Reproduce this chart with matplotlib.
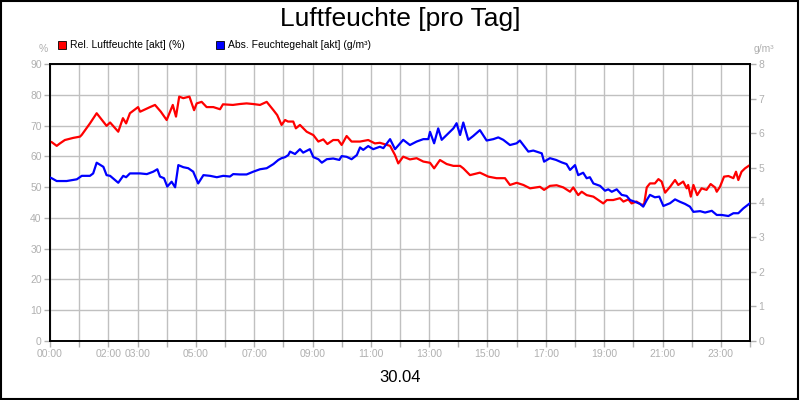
import matplotlib
matplotlib.use("Agg")
import matplotlib.pyplot as plt
from matplotlib.patches import Rectangle

plt.rcParams['font.family'] = ['Liberation Sans', 'DejaVu Sans']

title = "Luftfeuchte [pro Tag]"
date_label = "30.04"
rel_label = "Rel. Luftfeuchte [akt] (%)"
abs_label = "Abs. Feuchtegehalt [akt] (g/m³)"

rel_hours = [0.00, 0.06, 0.23, 0.34, 0.51, 0.80, 1.03, 1.09, 1.37, 1.60, 1.94, 2.06, 2.34, 2.50, 2.61,
             2.74, 3.02, 3.09, 3.43, 3.60, 3.70, 3.80, 4.00, 4.21, 4.32, 4.43, 4.57, 4.69, 4.78, 4.94,
             5.03, 5.20, 5.37, 5.60, 5.83, 5.93, 6.27, 6.51, 6.74, 6.96, 7.20, 7.43, 7.66, 7.79, 7.94,
             8.06, 8.16, 8.34, 8.43, 8.57, 8.80, 9.03, 9.20, 9.37, 9.51, 9.71, 9.88, 10.00, 10.17, 10.34,
             10.63, 10.91, 11.14, 11.31, 11.66, 11.83, 11.94, 12.11, 12.34, 12.57, 12.80, 13.03, 13.17,
             13.37, 13.60, 13.83, 14.06, 14.17, 14.40, 14.74, 15.03, 15.31, 15.60, 15.77, 16.00, 16.23,
             16.46, 16.80, 16.94, 17.14, 17.37, 17.60, 17.83, 17.94, 18.11, 18.23, 18.40, 18.63, 18.80,
             18.97, 19.09, 19.31, 19.54, 19.66, 19.83, 19.94, 20.11, 20.29, 20.37, 20.46, 20.57, 20.74,
             20.86, 20.97, 21.09, 21.26, 21.43, 21.54, 21.71, 21.83, 21.88, 21.97, 22.06, 22.19, 22.34,
             22.51, 22.65, 22.80, 22.86, 22.97, 23.11, 23.26, 23.43, 23.52, 23.60, 23.71, 23.83, 24.00]
rel_values = [64.8, 64.6, 63.4, 64.2, 65.3, 66.0, 66.4, 67.0, 70.7, 74.0, 69.9, 71.0, 68.0, 72.4, 70.7,
              74.0, 76.0, 74.5, 76.0, 76.7, 75.6, 74.5, 71.8, 76.7, 72.9, 79.4, 78.9, 79.2, 79.4, 75.0,
              77.2, 77.7, 76.0, 76.0, 75.3, 76.9, 76.7, 77.0, 77.2, 77.0, 76.7, 77.7, 75.0, 73.4, 70.2,
              71.8, 71.3, 71.3, 69.1, 70.2, 68.0, 66.9, 64.8, 65.5, 64.0, 65.3, 65.3, 63.7, 66.6, 64.8,
              64.8, 65.3, 64.2, 64.4, 63.4, 60.4, 57.7, 59.9, 59.0, 59.4, 58.3, 57.9, 56.1,
              58.8, 57.5, 56.9, 56.9, 56.1, 53.9, 54.7, 53.4, 52.9, 52.9, 50.7, 51.4, 50.7,
              49.6, 50.1, 49.1, 50.4, 50.6, 49.9, 48.5, 49.9, 47.4, 48.5, 47.4, 46.9, 45.8,
              44.7, 45.8, 45.8, 46.4, 45.3, 46.0, 44.7, 45.3, 44.2, 44.5, 49.9, 51.2, 51.2,
              52.6, 51.8, 48.2, 50.1, 52.3, 50.7, 51.8, 49.6, 50.7, 46.9, 50.7, 47.4, 49.6,
              49.1, 51.0, 49.9, 48.5, 50.1, 53.4, 53.6, 52.9, 55.0, 52.3, 55.0, 56.1, 57.2]

abs_hours = [0.00, 0.06, 0.23, 0.57, 0.92, 1.09, 1.37, 1.48, 1.60, 1.83, 1.94, 2.06, 2.34, 2.51, 2.61,
             2.74, 3.09, 3.32, 3.54, 3.68, 3.77, 3.91, 4.02, 4.17, 4.29, 4.40, 4.57, 4.74, 4.91, 5.08,
             5.26, 5.49, 5.72, 5.94, 6.17, 6.28, 6.51, 6.74, 6.97, 7.20, 7.43, 7.66, 7.83, 7.94, 8.06,
             8.17, 8.23, 8.40, 8.57, 8.68, 8.91, 9.03, 9.20, 9.32, 9.49, 9.71, 9.92, 10.00, 10.17, 10.34,
             10.52, 10.63, 10.74, 10.91, 11.08, 11.31, 11.43, 11.66, 11.83, 12.11, 12.34, 12.57, 12.80,
             12.97, 13.03, 13.17, 13.31, 13.43, 13.60, 13.83, 13.94, 14.06, 14.17, 14.34, 14.51, 14.74,
             14.97, 15.20, 15.37, 15.54, 15.77, 16.00, 16.11, 16.40, 16.57, 16.86, 16.94, 17.14, 17.35,
             17.54, 17.71, 17.83, 18.00, 18.11, 18.28, 18.40, 18.51, 18.63, 18.86, 19.03, 19.14, 19.26,
             19.43, 19.60, 19.77, 19.89, 20.06, 20.23, 20.34, 20.46, 20.57, 20.74, 20.89, 21.03, 21.26,
             21.43, 21.60, 21.77, 21.94, 22.06, 22.29, 22.46, 22.69, 22.86, 23.03, 23.26, 23.43, 23.60,
             23.77, 24.00]
abs_values = [4.72, 4.70, 4.62, 4.62, 4.67, 4.77, 4.77, 4.84, 5.15, 5.03, 4.79, 4.77, 4.57, 4.77, 4.73,
              4.84, 4.84, 4.82, 4.89, 4.96, 4.75, 4.70, 4.46, 4.60, 4.44, 5.08, 5.02, 4.99, 4.89, 4.55,
              4.79, 4.77, 4.73, 4.77, 4.75, 4.82, 4.81, 4.81, 4.89, 4.96, 4.99, 5.11, 5.23, 5.28, 5.31,
              5.37, 5.47, 5.40, 5.54, 5.44, 5.54, 5.31, 5.25, 5.15, 5.25, 5.27, 5.23, 5.34, 5.32, 5.25,
              5.37, 5.59, 5.52, 5.63, 5.54, 5.61, 5.57, 5.83, 5.54, 5.81, 5.66, 5.76, 5.83,
              5.83, 6.04, 5.71, 6.14, 5.81, 5.95, 6.14, 6.29, 5.95, 6.31, 5.81, 5.92, 6.09,
              5.79, 5.83, 5.88, 5.81, 5.66, 5.71, 5.79, 5.47, 5.50, 5.42, 5.18, 5.28, 5.23,
              5.16, 5.11, 4.94, 5.08, 4.79, 4.86, 4.70, 4.73, 4.55, 4.48, 4.34, 4.38, 4.31,
              4.38, 4.22, 4.19, 4.07, 4.02, 3.96, 3.88, 4.07, 4.22, 4.15, 4.17, 3.90, 3.98,
              4.09, 4.02, 3.96, 3.88, 3.73, 3.75, 3.71, 3.76, 3.64, 3.64, 3.61, 3.69, 3.69,
              3.83, 3.98]

x_tick_hours = list(range(0, 25))
x_label_hours = [0, 2, 3, 5, 7, 9, 11, 13, 15, 17, 19, 21, 23]
left_ticks = [0, 10, 20, 30, 40, 50, 60, 70, 80, 90]
right_ticks = [0, 1, 2, 3, 4, 5, 6, 7, 8]

tick_gray = '#b0b0b0'
grid_gray = '#c0c0c0'

fig = plt.figure(figsize=(8, 4), dpi=100)
fig.patch.set_facecolor('white')
fig.add_artist(Rectangle((0.001, 0.002), 0.997, 0.996, transform=fig.transFigure,
                         fill=False, edgecolor='black', linewidth=1.5))

ax = fig.add_axes([0.0625, 0.1475, 0.875, 0.6925])
ax2 = ax.twinx()

ax.plot(rel_hours, rel_values, color='#ff0000', linewidth=1.6, zorder=3)
ax2.plot(abs_hours, abs_values, color='#0000ff', linewidth=1.6, zorder=3)

ax.set_xlim(0, 24)
ax.set_ylim(0, 90)
ax2.set_ylim(0, 8)

ax.set_xticks(x_tick_hours)
ax.set_xticklabels(['%02d:00' % h if h in x_label_hours else '' for h in x_tick_hours])
ax.set_yticks(left_ticks)
ax2.set_yticks(right_ticks)

ax.grid(True, color=grid_gray, linewidth=1.0)
ax.set_axisbelow(True)

for a in (ax, ax2):
    a.tick_params(colors=tick_gray, labelcolor=tick_gray, labelsize=7.5, length=4, width=1, pad=2)
    for s in a.spines.values():
        s.set_color('black')
        s.set_linewidth(1.2)

fig.text(0.5, 0.953, title, ha='center', va='center', fontsize=19, color='black')
fig.text(0.5, 0.055, date_label, ha='center', va='center', fontsize=12, color='black')

fig.text(0.054, 0.878, '%', ha='center', va='center', fontsize=7.5, color=tick_gray)
fig.text(0.955, 0.878, 'g/m³', ha='center', va='center', fontsize=7.5, color=tick_gray)

# legend
fig.add_artist(Rectangle((58 / 800, 1 - 49 / 400), 8 / 800, 8 / 400, transform=fig.transFigure,
                         facecolor='#ff0000', edgecolor='black', linewidth=0.6))
fig.text(70 / 800, 1 - 45 / 400, rel_label, ha='left', va='center', fontsize=7.5, color='black')
fig.add_artist(Rectangle((216 / 800, 1 - 49 / 400), 8 / 800, 8 / 400, transform=fig.transFigure,
                         facecolor='#0000ff', edgecolor='black', linewidth=0.6))
fig.text(228 / 800, 1 - 45 / 400, abs_label, ha='left', va='center', fontsize=7.5, color='black')

fig.savefig('out.png', dpi=100)
